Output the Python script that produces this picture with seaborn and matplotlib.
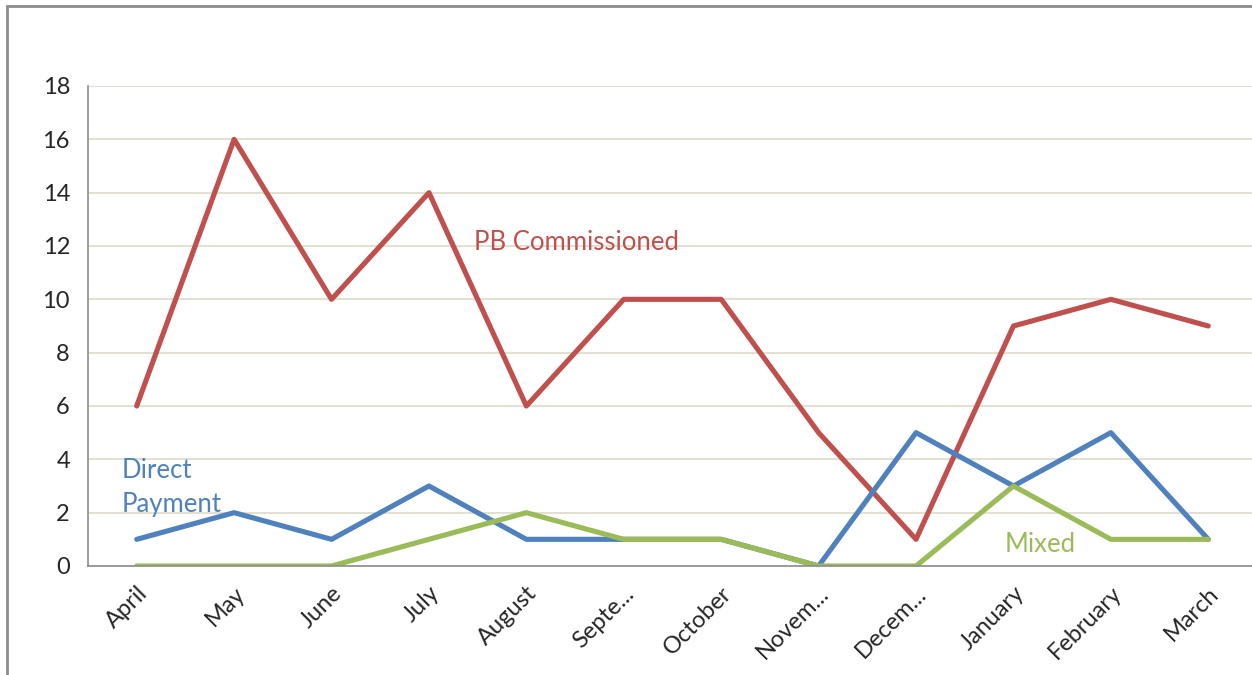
import pandas as pd
import seaborn as sns
import matplotlib.pyplot as plt
from matplotlib.patches import Rectangle

# Data
months = ['April', 'May', 'June', 'July', 'August', 'Septe...', 'October',
          'Novem...', 'Decem...', 'January', 'February', 'March']
pb_commissioned = [6, 16, 10, 14, 6, 10, 10, 5, 1, 9, 10, 9]
direct_payment = [1, 2, 1, 3, 1, 1, 1, 0, 5, 3, 5, 1]
mixed = [0, 0, 0, 1, 2, 1, 1, 0, 0, 3, 1, 1]

series_names = ['PB Commissioned', 'Direct Payment', 'Mixed']
colors = ['#C0504D', '#4F81BD', '#9BBB59']

df = pd.DataFrame({
    'Month': months * 3,
    'idx': list(range(len(months))) * 3,
    'Count': pb_commissioned + direct_payment + mixed,
    'Series': [s for s in series_names for _ in months],
})

sns.set_style('white')
plt.rcParams['font.family'] = ['Lato', 'DejaVu Sans']

fig = plt.figure(figsize=(12.52, 6.75), dpi=100)
ax = fig.add_axes([88 / 1252, 109 / 675, 1169 / 1252, 480 / 675])

# outer chart border
fig.patches.append(Rectangle((7 / 1252, -0.01), 1.1, (675 - 6) / 675 + 0.01,
                             transform=fig.transFigure, fill=False,
                             edgecolor='#8C8C8C', linewidth=2))

sns.lineplot(data=df, x='idx', y='Count', hue='Series', palette=colors,
             linewidth=3.7, legend=False, ax=ax)

ax.set_xlim(-0.5, 11.5)
ax.set_ylim(0, 18)
ax.set_yticks(range(0, 19, 2))
ax.yaxis.grid(True, color='#DDDBC8', linewidth=1.2)
ax.set_axisbelow(True)

ax.set_xticks(range(len(months)))
ax.set_xticklabels(months, rotation=45, ha='right', rotation_mode='anchor')
ax.set_xticks([i - 0.5 for i in range(len(months) + 1)], minor=True)
ax.tick_params(axis='x', which='major', length=0, pad=12, labelsize=17)
ax.tick_params(axis='x', which='minor', length=7, color='#8C8C8C', width=1.2)
ax.tick_params(axis='y', length=7, color='#8C8C8C', width=1.2, labelsize=17, pad=6)

ax.set_xlabel('')
ax.set_ylabel('')
for side in ['top', 'right']:
    ax.spines[side].set_visible(False)
for side in ['left', 'bottom']:
    ax.spines[side].set_color('#8C8C8C')
    ax.spines[side].set_linewidth(1.2)

# series labels
ax.text(4.51, 12.15, 'PB Commissioned', color=colors[0], fontsize=18.5,
        ha='center', va='center')
ax.text(-0.15, 2.95, 'Direct\nPayment', color=colors[1], fontsize=18.5,
        ha='left', va='center', linespacing=1.45)
ax.text(9.27, 0.8, 'Mixed', color=colors[2], fontsize=18.5,
        ha='center', va='center')

fig.savefig('out.png', dpi=100)
